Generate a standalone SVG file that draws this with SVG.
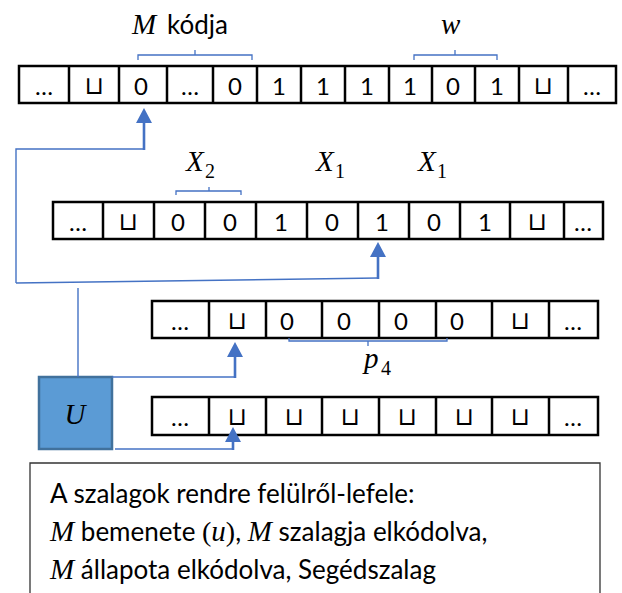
<svg xmlns="http://www.w3.org/2000/svg" width="622" height="593" viewBox="0 0 622 593">
<style>
.tape{fill:#fff;stroke:#000;stroke-width:2.5}
.cell{stroke:#000;stroke-width:2.5;fill:none}
.d{font-family:Lato,"Liberation Sans",sans-serif;font-size:24px;text-anchor:middle;fill:#000}
.cup{font-family:"DejaVu Sans",sans-serif;font-size:25px;text-anchor:middle;fill:#000}
.m{font-family:"Liberation Serif",serif;font-style:italic;font-size:29px;fill:#000}
.s{font-family:"Liberation Serif",serif;font-size:20px;fill:#000}
.par{font-family:"Liberation Serif",serif;font-size:28px;fill:#000}
.t{font-family:Lato,"Liberation Sans",sans-serif;font-size:26px;fill:#000}
.thin{stroke:#4472C4;stroke-width:1.4;fill:none}
.shaft{stroke:#4472C4;stroke-width:2.6;fill:none;marker-end:url(#ah)}
.brace{stroke:#4472C4;stroke-width:1.3;fill:none}
</style>
<defs>
<marker id="ah" viewBox="0 0 15 16" refX="7" refY="8" markerWidth="15" markerHeight="16" markerUnits="userSpaceOnUse" orient="auto">
<path d="M0,0 L15,8 L0,16 Z" fill="#4472C4"/>
</marker>
</defs>

<g id="tape1">
<rect class="tape" x="19" y="66" width="597" height="37"/>
<path class="cell" d="M69,66V103M119,66V103M167,66V103M213,66V103M257,66V103M301,66V103M345,66V103M389,66V103M432,66V103M475,66V103M519,66V103M568,66V103"/>
<text class="d" x="44" y="95">…</text>
<text class="cup" x="94" y="94">⊔</text>
<text class="d" x="141" y="95">0</text>
<text class="d" x="190" y="95">…</text>
<text class="d" x="235" y="95">0</text>
<text class="d" x="279" y="95">1</text>
<text class="d" x="323" y="95">1</text>
<text class="d" x="367" y="95">1</text>
<text class="d" x="410" y="95">1</text>
<text class="d" x="453" y="95">0</text>
<text class="d" x="497" y="95">1</text>
<text class="cup" x="543" y="94">⊔</text>
<text class="d" x="592" y="95">…</text>
</g>

<g id="tape2">
<rect class="tape" x="53" y="202" width="550" height="37"/>
<path class="cell" d="M103,202V239M154,202V239M205,202V239M256,202V239M307,202V239M358,202V239M409,202V239M460,202V239M510,202V239M564,202V239"/>
<text class="d" x="78" y="231">…</text>
<text class="cup" x="128" y="230">⊔</text>
<text class="d" x="178" y="231">0</text>
<text class="d" x="230" y="231">0</text>
<text class="d" x="281" y="231">1</text>
<text class="d" x="332" y="231">0</text>
<text class="d" x="382" y="231">1</text>
<text class="d" x="434" y="231">0</text>
<text class="d" x="485" y="231">1</text>
<text class="cup" x="537" y="230">⊔</text>
<text class="d" x="583" y="231">…</text>
</g>

<g id="tape3">
<rect class="tape" x="152" y="301" width="446" height="37"/>
<path class="cell" d="M209,301V338M266,301V338M322,301V338M379,301V338M436,301V338M492,301V338M549,301V338"/>
<text class="d" x="180" y="330">…</text>
<text class="cup" x="237" y="329">⊔</text>
<text class="d" x="287" y="330">0</text>
<text class="d" x="344" y="330">0</text>
<text class="d" x="401" y="330">0</text>
<text class="d" x="457" y="330">0</text>
<text class="cup" x="520" y="329">⊔</text>
<text class="d" x="573" y="330">…</text>
</g>

<g id="tape4">
<rect class="tape" x="152" y="397" width="446" height="38"/>
<path class="cell" d="M209,397V435M266,397V435M322,397V435M379,397V435M436,397V435M492,397V435M549,397V435"/>
<text class="d" x="180" y="426">…</text>
<text class="cup" x="237" y="425">⊔</text>
<text class="cup" x="294" y="425">⊔</text>
<text class="cup" x="350" y="425">⊔</text>
<text class="cup" x="407" y="425">⊔</text>
<text class="cup" x="464" y="425">⊔</text>
<text class="cup" x="520" y="425">⊔</text>
<text class="d" x="573" y="426">…</text>
</g>

<g id="U">
<rect x="39" y="377" width="73" height="72" fill="#5B9BD5" stroke="#41719C" stroke-width="2.5"/>
<text class="m" x="75" y="424" text-anchor="middle">U</text>
</g>

<g id="labels">
<text class="m" x="132" y="34">M</text>
<text class="t" x="167" y="34">kódja</text>
<text class="m" x="441" y="34">w</text>
<text class="m" x="186" y="171">X</text>
<text class="s" x="205" y="178">2</text>
<text class="m" x="316" y="171">X</text>
<text class="s" x="335" y="178">1</text>
<text class="m" x="418" y="171">X</text>
<text class="s" x="437" y="178">1</text>
<text class="m" x="364" y="368">p</text>
<text class="s" x="381" y="375">4</text>
</g>

<g id="braces">
<path class="brace" d="M138,60V55H252V60M195,55V50"/>
<path class="brace" d="M414,60V55H497V60M455,55V50"/>
<path class="brace" d="M176,195V191H241V195M209,191V187"/>
<path class="brace" d="M289,338V341H447V338M368,341V346"/>
</g>

<g id="connectors">
<path class="thin" d="M16,283V149H144"/>
<path class="shaft" d="M144,150V116"/>
<path class="thin" d="M16,283L378,278"/>
<path class="shaft" d="M378,279V250"/>
<path class="thin" d="M78,288V377"/>
<path class="thin" d="M112,377H235"/>
<path class="shaft" d="M235,378V350"/>
<path class="thin" d="M115,449H233"/>
<path class="shaft" d="M233,450V435"/>
</g>

<g id="note">
<path d="M30,600V463H600V600" fill="#fff" stroke="#333" stroke-width="1.3"/>
<text class="t" x="50" y="503">A szalagok rendre felülről-lefele:</text>
<text x="50" y="541"><tspan class="m">M</tspan><tspan class="t"> bemenete </tspan><tspan class="par">(</tspan><tspan class="m">u</tspan><tspan class="par">)</tspan><tspan class="t">, </tspan><tspan class="m">M</tspan><tspan class="t"> szalagja elkódolva,</tspan></text>
<text x="50" y="579"><tspan class="m">M</tspan><tspan class="t"> állapota elkódolva, Segédszalag</tspan></text>
</g>
</svg>
